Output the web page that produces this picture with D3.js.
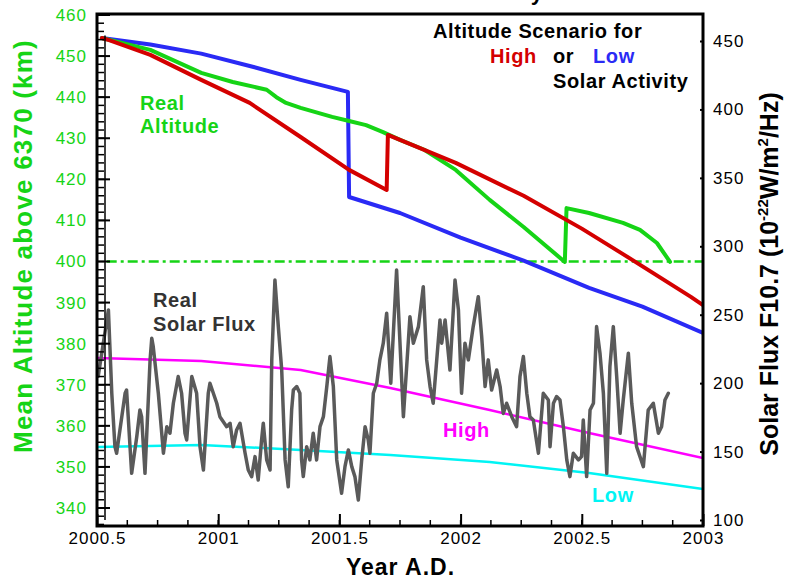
<!DOCTYPE html>
<html>
<head>
<meta charset="utf-8">
<script src="https://cdn.jsdelivr.net/npm/d3@7"></script>
<style>
    body { margin: 0; background: #fff; }
    svg { display: block; font-family: "Liberation Sans", Arial, Helvetica, sans-serif; }
</style>
</head>
<body>
<svg id="chart"></svg>
<script>
// altitude scenarios, [year, km above 6370]
let lowScenario = [[2000.52, 454.4], [2000.72, 452.8], [2000.93, 450.6], [2001.13, 447.6], [2001.34, 444.2],
    [2001.535, 441.3], [2001.54, 415.7], [2001.75, 411.8], [2002.0, 405.8], [2002.26, 400.2], [2002.53, 393.6],
    [2002.75, 389.0], [2003.0, 382.6]];
let highScenario = [[2000.52, 454.4], [2000.55, 453.9], [2000.72, 450.3], [2000.93, 444.2], [2001.13, 438.6],
    [2001.34, 430.3], [2001.54, 422.3], [2001.695, 417.4], [2001.70, 430.8], [2001.98, 424.0],
    [2002.26, 416.0], [2002.5, 408.0], [2002.67, 401.8], [2002.95, 391.4], [2003.0, 389.4]];
let realAltitude = [[2000.52, 454.4], [2000.72, 451.5], [2000.93, 445.9], [2001.06, 443.7], [2001.2, 441.8],
    [2001.24, 440.0], [2001.28, 438.6], [2001.34, 437.4], [2001.47, 435.2], [2001.54, 434.2], [2001.61, 433.2],
    [2001.68, 431.5], [2001.75, 429.6], [2001.85, 427.2], [2001.98, 422.3], [2002.12, 415.0], [2002.26, 408.4],
    [2002.43, 399.9], [2002.437, 413.0], [2002.53, 411.8], [2002.67, 409.4], [2002.74, 407.7], [2002.81, 404.5],
    [2002.864, 399.9]];
let limitAltitude = 400;

// solar flux, [year, F10.7]
let highFlux = [[2000.5, 218.4], [2000.93, 216.2], [2001.34, 209.6], [2001.71, 196.5], [2002.12, 180.4],
    [2002.53, 163.6], [2003.0, 145.3]];
let lowFlux = [[2000.5, 153.4], [2000.93, 154.8], [2001.34, 151.2], [2001.71, 147.5], [2002.12, 142.4],
    [2002.53, 134.4], [2003.0, 122.7]];
let realFlux = [[2000.505, 205], [2000.547, 253.5], [2000.561, 192.6], [2000.574, 153.6], [2000.581, 148.8],
    [2000.616, 192.6], [2000.622, 195.0], [2000.643, 134.1], [2000.664, 160.9], [2000.677, 180.4], [2000.684, 175.5],
    [2000.698, 134.1], [2000.719, 217.0], [2000.726, 232.8], [2000.732, 226.7], [2000.753, 192.6], [2000.774, 148.8],
    [2000.788, 168.2], [2000.801, 163.4], [2000.815, 185.3], [2000.835, 204.8], [2000.849, 192.6], [2000.863, 163.4],
    [2000.870, 158.5], [2000.891, 204.8], [2000.911, 192.6], [2000.925, 153.6], [2000.939, 136.5], [2000.959, 192.6],
    [2000.966, 199.9], [2000.980, 192.6], [2000.994, 185.3], [2001.007, 175.5], [2001.035, 168.2], [2001.049, 170.7],
    [2001.062, 153.6], [2001.076, 165.8], [2001.090, 170.7], [2001.111, 148.8], [2001.124, 136.5], [2001.138, 131.7],
    [2001.152, 146.3], [2001.165, 129.2], [2001.179, 158.5], [2001.186, 170.7], [2001.200, 143.9], [2001.214, 136.5],
    [2001.221, 217.0], [2001.234, 275.4], [2001.248, 241.3], [2001.262, 209.6], [2001.276, 143.9], [2001.289, 124.3],
    [2001.303, 180.4], [2001.310, 195.0], [2001.324, 197.5], [2001.337, 192.6], [2001.344, 143.9], [2001.351, 131.7],
    [2001.365, 153.6], [2001.378, 143.9], [2001.392, 163.4], [2001.406, 143.9], [2001.420, 168.2], [2001.434, 175.5],
    [2001.448, 197.5], [2001.461, 219.4], [2001.475, 197.5], [2001.489, 143.9], [2001.509, 119.5], [2001.523, 139.0],
    [2001.537, 151.2], [2001.551, 139.0], [2001.564, 131.7], [2001.578, 114.6], [2001.592, 143.9], [2001.606, 168.2],
    [2001.619, 158.5], [2001.626, 148.8], [2001.640, 192.6], [2001.654, 199.9], [2001.667, 217.0], [2001.681, 229.2],
    [2001.695, 251.1], [2001.712, 200.0], [2001.736, 282.7], [2001.764, 175.5], [2001.791, 248.6], [2001.805, 229.2],
    [2001.826, 241.3], [2001.846, 270.5], [2001.860, 217.0], [2001.874, 197.5], [2001.887, 185.3], [2001.915, 246.2],
    [2001.922, 229.2], [2001.936, 246.2], [2001.956, 209.6], [2001.977, 275.4], [2001.991, 253.5], [2002.004, 192.6],
    [2002.018, 229.2], [2002.032, 217.0], [2002.052, 241.3], [2002.073, 263.2], [2002.087, 234.0], [2002.101, 197.5],
    [2002.114, 217.0], [2002.128, 195.0], [2002.149, 209.6], [2002.163, 197.5], [2002.176, 177.9], [2002.190, 185.3],
    [2002.211, 175.5], [2002.231, 168.2], [2002.245, 204.8], [2002.259, 219.4], [2002.273, 192.6], [2002.286, 175.5],
    [2002.300, 173.1], [2002.321, 148.8], [2002.341, 192.6], [2002.362, 187.7], [2002.369, 153.6], [2002.383, 185.3],
    [2002.396, 190.2], [2002.410, 187.7], [2002.424, 168.2], [2002.438, 143.9], [2002.451, 131.7], [2002.465, 148.8],
    [2002.486, 143.9], [2002.499, 146.3], [2002.506, 173.1], [2002.520, 131.7], [2002.534, 180.4], [2002.548, 185.3],
    [2002.561, 241.3], [2002.575, 221.9], [2002.589, 192.6], [2002.603, 134.1], [2002.616, 212.1], [2002.630, 241.3],
    [2002.644, 204.8], [2002.658, 163.4], [2002.671, 187.7], [2002.692, 221.9], [2002.706, 185.3], [2002.726, 153.6],
    [2002.754, 139.0], [2002.774, 180.4], [2002.795, 185.3], [2002.816, 163.4], [2002.829, 168.2], [2002.843, 187.7],
    [2002.857, 192.6]];

// ticks
let yearTicks = [2000.5, 2001, 2001.5, 2002, 2002.5, 2003];
let yearMinor = d3.range(2000.5, 2003.001, 0.125);
let altTicks = d3.range(340, 461, 10);
let altMinor = d3.range(336, 461, 2);
let fluxTicks = d3.range(100, 451, 50);

let colors = {
    green: '#16d416',
    red: '#d40000',
    blue: '#2a2af5',
    magenta: '#ff00ff',
    cyan: '#00f4f4',
    gray: '#5a5a5a'
};

let margin = { top: 14, bot: 54, left: 97, right: 84 };
let width = 787, height = 580;
let config = {
    margin: margin,
    bodyWidth: width - margin.left - margin.right,
    bodyHeight: height - margin.top - margin.bot,
    width: width,
    height: height
};

let svg = d3.select('#chart')
    .attr('width', width)
    .attr('height', height);

let xScale = d3.scaleLinear()
    .domain([2000.5, 2003])
    .range([margin.left, margin.left + config.bodyWidth]);
let altScale = d3.scaleLinear()
    .domain([340, 460])
    .range([508, 15]);
let fluxScale = d3.scaleLinear()
    .domain([100, 450])
    .range([520, 41]);

svg.append('defs').append('clipPath').attr('id', 'clip')
    .append('rect')
    .attr('x', margin.left)
    .attr('y', margin.top)
    .attr('width', config.bodyWidth)
    .attr('height', config.bodyHeight);

let body = svg.append('g').attr('clip-path', 'url(#clip)');

function drawLine(data, scale, color, w) {
    let line = d3.line()
        .x(d => xScale(d[0]))
        .y(d => scale(d[1]));
    body.append('path')
        .datum(data)
        .attr('d', line)
        .attr('fill', 'none')
        .attr('stroke', color)
        .attr('stroke-width', w)
        .attr('stroke-linejoin', 'round')
        .attr('stroke-linecap', 'round');
}

// flux first, altitude on top
drawLine(highFlux, fluxScale, colors.magenta, 2.5);
drawLine(lowFlux, fluxScale, colors.cyan, 2.5);
drawLine(realFlux, fluxScale, colors.gray, 3.5);

body.append('line')
    .attr('x1', xScale(2000.54))
    .attr('x2', xScale(2003))
    .attr('y1', altScale(limitAltitude))
    .attr('y2', altScale(limitAltitude))
    .attr('stroke', colors.green)
    .attr('stroke-width', 2.5)
    .attr('stroke-dasharray', '10,4,3,4');

drawLine(lowScenario, altScale, colors.blue, 4);
drawLine(realAltitude, altScale, colors.green, 4);
drawLine(highScenario, altScale, colors.red, 4);

// frame
svg.append('rect')
    .attr('x', margin.left)
    .attr('y', margin.top)
    .attr('width', config.bodyWidth)
    .attr('height', config.bodyHeight)
    .attr('fill', 'none')
    .attr('stroke', '#000')
    .attr('stroke-width', 3);

// left axis: labels + inward ticks
let leftLabels = svg.append('g')
    .attr('transform', `translate(${margin.left - 4},0)`)
    .call(d3.axisLeft(altScale).tickValues(altTicks).tickSize(0).tickPadding(6));
leftLabels.select('.domain').remove();
leftLabels.selectAll('text')
    .attr('fill', colors.green)
    .style('font-size', '17px')
    .style('letter-spacing', '1px')
    .style('font-family', '"Liberation Sans", Arial, sans-serif');

let leftTicks = svg.append('g').attr('transform', `translate(${margin.left},0)`);
leftTicks.selectAll('.minor')
    .data(altMinor)
    .enter().append('line')
    .attr('x1', 0).attr('x2', 7)
    .attr('y1', d => altScale(d)).attr('y2', d => altScale(d))
    .attr('stroke', '#000').attr('stroke-width', 1.5);
leftTicks.selectAll('.major')
    .data(altTicks)
    .enter().append('line')
    .attr('x1', 0).attr('x2', 13)
    .attr('y1', d => altScale(d)).attr('y2', d => altScale(d))
    .attr('stroke', '#000').attr('stroke-width', 2);
leftTicks.append('line')
    .attr('x1', 8).attr('x2', 8)
    .attr('y1', altScale(455)).attr('y2', 520)
    .attr('stroke', '#000').attr('stroke-width', 1.5);

// right axis
let rightAx = svg.append('g')
    .attr('transform', `translate(${margin.left + config.bodyWidth},0)`)
    .call(d3.axisRight(fluxScale).tickValues(fluxTicks).tickSizeInner(-3).tickSizeOuter(0).tickPadding(10));
rightAx.select('.domain').remove();
rightAx.selectAll('line').attr('stroke-width', 2);
rightAx.selectAll('text')
    .attr('fill', '#000')
    .style('font-size', '17px')
    .style('letter-spacing', '1px')
    .style('font-family', '"Liberation Sans", Arial, sans-serif');

// bottom axis
let bottomY = margin.top + config.bodyHeight;
let xAx = svg.append('g')
    .attr('transform', `translate(0,${bottomY})`)
    .call(d3.axisBottom(xScale).tickValues(yearTicks).tickFormat(d3.format('')).tickSizeInner(-12).tickSizeOuter(0).tickPadding(6));
xAx.select('.domain').remove();
xAx.selectAll('line').attr('stroke-width', 2);
xAx.selectAll('text')
    .attr('fill', '#000')
    .style('font-size', '17px')
    .style('letter-spacing', '1px')
    .style('font-family', '"Liberation Sans", Arial, sans-serif');
svg.append('g').selectAll('line')
    .data(yearMinor)
    .enter().append('line')
    .attr('x1', d => xScale(d)).attr('x2', d => xScale(d))
    .attr('y1', bottomY).attr('y2', bottomY - 6)
    .attr('stroke', '#000').attr('stroke-width', 1.5);

// axis titles
svg.append('text')
    .attr('transform', `translate(${width / 2 + 7},575)`)
    .style('text-anchor', 'middle')
    .style('font-weight', 'bold')
    .style('font-size', '23px')
    .style('letter-spacing', '1px')
    .text('Year A.D.');
svg.append('text')
    .attr('transform', 'translate(32,246) rotate(-90)')
    .style('text-anchor', 'middle')
    .style('font-weight', 'bold')
    .style('font-size', '26px')
    .style('letter-spacing', '1.2px')
    .attr('fill', colors.green)
    .text('Mean Altitude above 6370 (km)');
let fluxTitle = svg.append('text')
    .attr('transform', 'translate(778,274) rotate(-90)')
    .style('text-anchor', 'middle')
    .style('font-weight', 'bold')
    .style('font-size', '25px')
    .attr('fill', '#000');
fluxTitle.append('tspan').text('Solar Flux F10.7 (10');
fluxTitle.append('tspan').attr('dy', -10).style('font-size', '15px').text('-22');
fluxTitle.append('tspan').attr('dy', 10).text('W/m');
fluxTitle.append('tspan').attr('dy', -10).style('font-size', '15px').text('2');
fluxTitle.append('tspan').attr('dy', 10).text('/Hz)');

// cut-off title at the very top
svg.append('text')
    .attr('x', 543).attr('y', 0)
    .style('text-anchor', 'end')
    .style('font-weight', 'bold')
    .style('font-size', '22px')
    .text('Altitude and Solar Activity');

// annotations
function label(x, y, txt, color, size) {
    svg.append('text')
        .attr('x', x).attr('y', y)
        .attr('fill', color)
        .style('font-weight', 'bold')
        .style('font-size', size || '20px')
        .style('letter-spacing', '0.6px')
        .text(txt);
}
label(433, 38, 'Altitude Scenario for', '#000');
label(490, 63, 'High', colors.red);
label(553, 63, 'or', '#000');
label(593, 63, 'Low', colors.blue);
label(553, 88, 'Solar Activity', '#000');
label(140, 110, 'Real', colors.green);
label(140, 133, 'Altitude', colors.green);
label(153, 307, 'Real', '#333');
label(153, 331, 'Solar Flux', '#333');
label(443, 437, 'High', colors.magenta);
label(592, 502, 'Low', colors.cyan);
</script>
</body>
</html>
